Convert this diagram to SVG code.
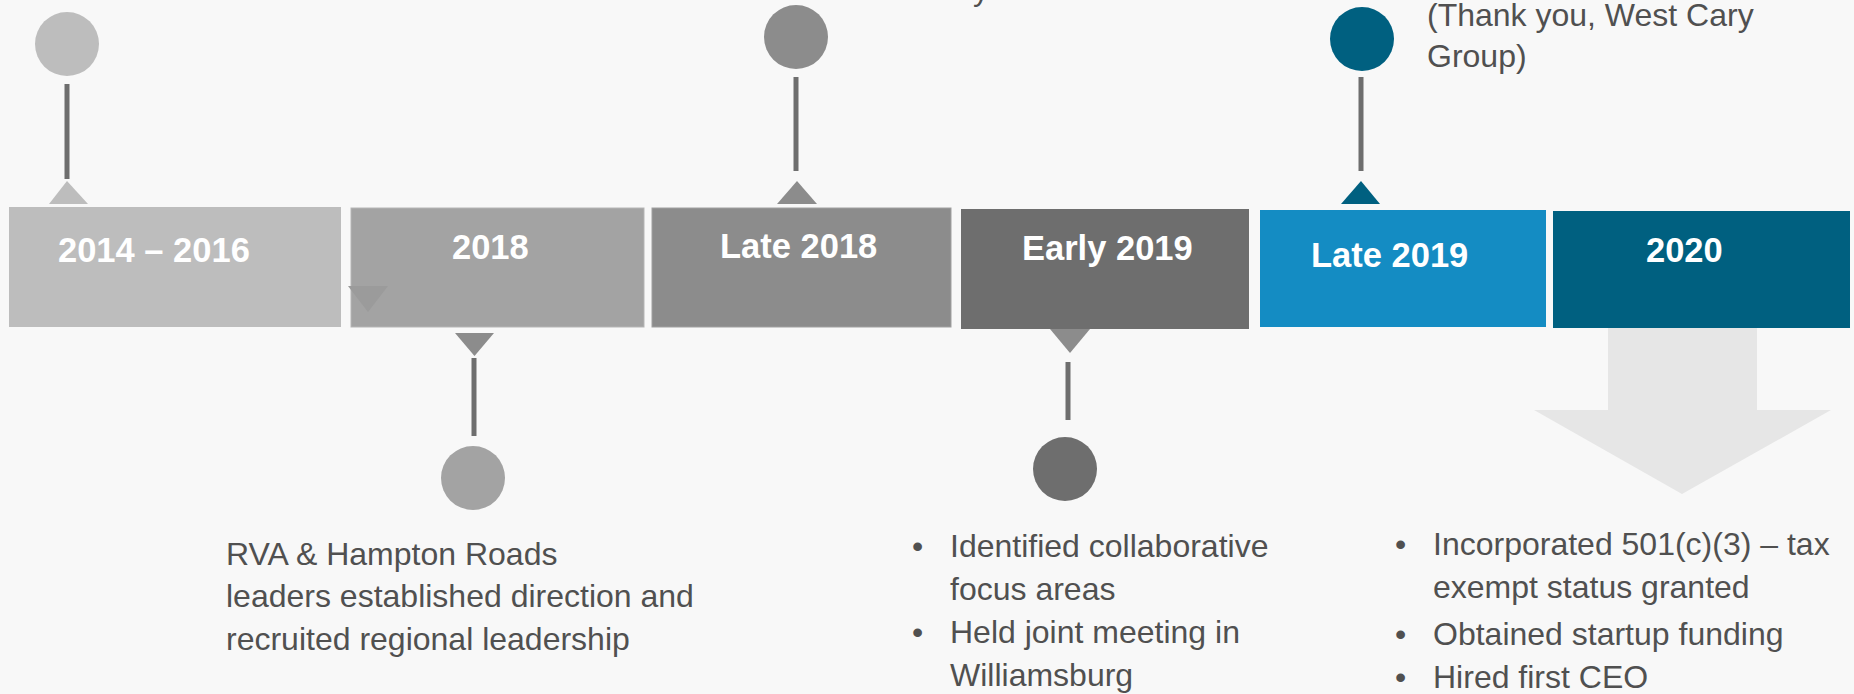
<svg xmlns="http://www.w3.org/2000/svg" width="1854" height="694" viewBox="0 0 1854 694">
<style>
.lbl{font-family:"Liberation Sans",Arial,sans-serif;font-weight:bold;font-size:34.5px;fill:#ffffff}
.body{font-family:"Liberation Sans",Arial,sans-serif;font-size:32px;fill:#505050}
.stem{stroke:#6e6e6e;stroke-width:5;fill:none}
</style>
<rect x="0" y="0" width="1854" height="694" fill="#f8f8f8"/>
<g id="arrow-2020">
<polygon points="1608,328 1757,328 1757,410 1831,410 1682,494 1534,410 1608,410" fill="#e6e6e6"/>
</g>
<g id="box-2014-2016">
<rect x="9" y="207" width="332" height="120" fill="#bdbdbd"/>
<text class="lbl" x="58" y="262">2014 – 2016</text>
</g>
<g id="box-2018">
<rect x="351" y="208" width="293" height="119" fill="#a3a3a3" stroke="#b5b5b5" stroke-width="1"/>
<polygon points="348,286 388,286 368,312" fill="#9b9b9b"/>
<text class="lbl" x="452" y="259">2018</text>
</g>
<g id="box-late-2018">
<rect x="652" y="208" width="299" height="119" fill="#8c8c8c" stroke="#a0a0a0" stroke-width="1"/>
<text class="lbl" x="720" y="258">Late 2018</text>
</g>
<g id="box-early-2019">
<rect x="961" y="209" width="288" height="120" fill="#6e6e6e"/>
<text class="lbl" x="1022" y="260">Early 2019</text>
</g>
<g id="box-late-2019">
<rect x="1260" y="210" width="286" height="117" fill="#148cc3"/>
<text class="lbl" x="1311" y="267">Late 2019</text>
</g>
<g id="box-2020">
<rect x="1553" y="211" width="297" height="117" fill="#006080"/>
<text class="lbl" x="1646" y="262">2020</text>
</g>
<g id="connectors">
<line class="stem" x1="67" y1="84" x2="67" y2="179"/>
<polygon points="49,204 88,204 67,181" fill="#bdbdbd"/>
<polygon points="455,333 494,333 474.5,356" fill="#8c8c8c"/>
<line class="stem" x1="474" y1="358" x2="474" y2="436"/>
<line class="stem" x1="796" y1="77" x2="796" y2="171"/>
<polygon points="777,204 817,204 797,181" fill="#8c8c8c"/>
<polygon points="1050,329 1090,329 1070,353" fill="#8c8c8c"/>
<line class="stem" x1="1068" y1="362" x2="1068" y2="420"/>
<line class="stem" x1="1361" y1="77" x2="1361" y2="171"/>
<polygon points="1341,204 1380,204 1361,181" fill="#006080"/>
</g>
<g id="marker-2014-2016">
<circle cx="67" cy="44" r="32" fill="#bdbdbd"/>
</g>
<g id="marker-2018">
<circle cx="473" cy="478" r="32" fill="#a3a3a3"/>
<text class="body" x="226" y="565">RVA &amp; Hampton Roads</text>
<text class="body" x="226" y="607">leaders established direction and</text>
<text class="body" x="226" y="650">recruited regional leadership</text>
</g>
<g id="marker-late-2018">
<circle cx="796" cy="37" r="32" fill="#8c8c8c"/>
<text class="body" x="973" y="0">y</text>
</g>
<g id="marker-early-2019">
<circle cx="1065" cy="469" r="32" fill="#6e6e6e"/>
<text class="body" x="912" y="557">•</text>
<text class="body" x="950" y="557">Identified collaborative</text>
<text class="body" x="950" y="600">focus areas</text>
<text class="body" x="912" y="643">•</text>
<text class="body" x="950" y="643">Held joint meeting in</text>
<text class="body" x="950" y="686">Williamsburg</text>
</g>
<g id="marker-late-2019">
<circle cx="1362" cy="39" r="32" fill="#006080"/>
<text class="body" x="1427" y="26">(Thank you, West Cary</text>
<text class="body" x="1427" y="67">Group)</text>
</g>
<g id="notes-2020">
<text class="body" x="1395" y="555">•</text>
<text class="body" x="1433" y="555">Incorporated 501(c)(3) – tax</text>
<text class="body" x="1433" y="598">exempt status granted</text>
<text class="body" x="1395" y="645">•</text>
<text class="body" x="1433" y="645">Obtained startup funding</text>
<text class="body" x="1395" y="688">•</text>
<text class="body" x="1433" y="688">Hired first CEO</text>
</g>
</svg>
